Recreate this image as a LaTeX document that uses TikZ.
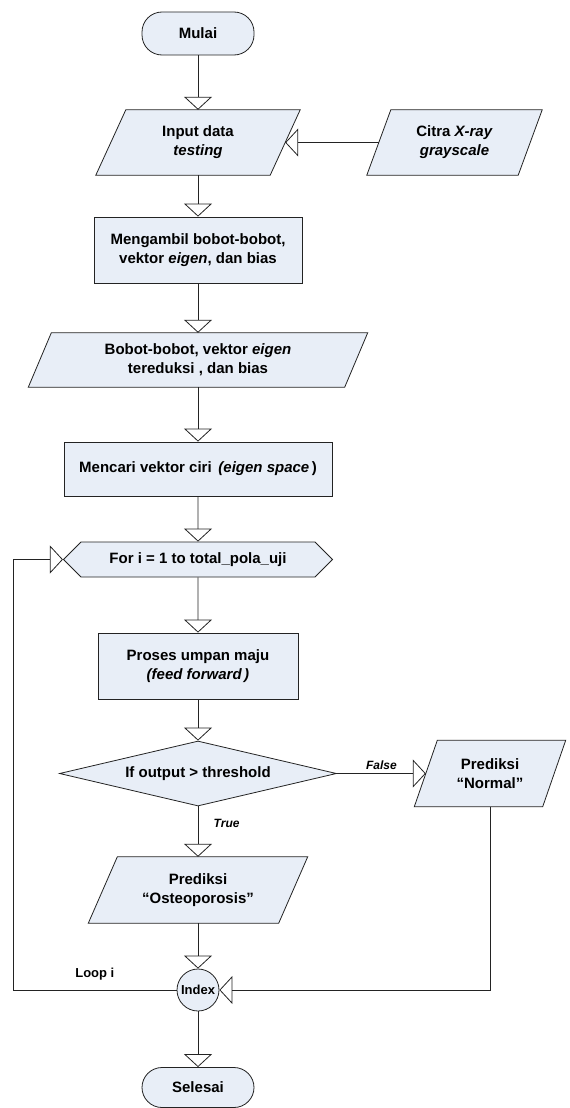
\documentclass[tikz,border=0pt]{standalone}
\usepackage{fontspec}
\setmainfont{Liberation Sans}
\usepackage{tikz}
\usetikzlibrary{arrows.meta,positioning,shapes.geometric,shapes.symbols,backgrounds}
\definecolor{boxpale}{RGB}{232,238,247}
\definecolor{edge}{RGB}{35,35,35}
% slanted outline behind a data node: name, half skew
\newcommand\datashape[2]{%
  \path[base] ([xshift=#2]#1.north west) -- ([xshift=#2]#1.north east)
    -- ([xshift=-#2]#1.south east) -- ([xshift=-#2]#1.south west) -- cycle;}

\begin{document}
\begin{tikzpicture}[x=1pt,y=-1pt,>={Triangle[open,length=13pt,width=28pt]},
  every node/.style={align=center,font=\bfseries\fontsize{15}{19}\selectfont},
  base/.style={draw=edge,line width=0.8pt,fill=boxpale,inner sep=0pt},
  term/.style={base,rectangle,rounded corners=20pt,minimum width=112pt},
  proc/.style={base,rectangle},
  io/.style={rectangle,inner sep=0pt},
  lbl/.style={font=\bfseries\itshape\fontsize{12}{14}\selectfont},
  flow/.style={->,draw=edge,line width=0.8pt}]
  \useasboundingbox (0,0) rectangle (570,1108);

  \node[term,minimum height=43pt] (mulai) at (198,33.5) {Mulai};
  \node[io,minimum width=174pt,minimum height=65pt] (inp) at (198,142.5)
    {Input data\\\textit{testing}};
  \node[io,minimum width=151pt,minimum height=65pt] (citra) at (454.5,142.5)
    {Citra \textit{X-ray}\\\textit{grayscale}};
  \node[proc,minimum width=208pt,minimum height=66pt] (ambil) at (198,250)
    {Mengambil bobot-bobot,\\vektor \textit{eigen}, dan bias};
  \node[io,minimum width=316pt,minimum height=54pt] (bobot) at (198,360)
    {Bobot-bobot, vektor \textit{eigen}\\tereduksi , dan bias};
  \node[proc,minimum width=268pt,minimum height=54pt] (ciri) at (198,469)
    {Mencari vektor ciri \,\textit{(eigen space}\,)};
  \node[base,signal,signal to=west and east,signal pointer angle=90,
    minimum width=269pt,minimum height=35pt] (loop) at (198,559.5)
    {For i = 1 to total\_pola\_uji};
  \node[proc,minimum width=200pt,minimum height=66pt] (maju) at (198,666)
    {Proses umpan maju\\\textit{(feed forward\,)}};
  \node[base,diamond,aspect=4.26,minimum width=277pt,minimum height=65pt] (cek) at (198,773.5)
    {If output > threshold};
  \node[io,minimum width=128pt,minimum height=66pt] (normal) at (490,773.5)
    {Prediksi\\“Normal”};
  \node[io,minimum width=190pt,minimum height=66pt] (osteo) at (198,890)
    {Prediksi\\“Osteoporosis”};
  \node[base,circle,minimum size=42pt,font=\bfseries\fontsize{13}{15}\selectfont] (idx) at (198,990) {Index};
  \node[term,minimum height=40pt] (selesai) at (198,1087.5) {Selesai};
  \coordinate (ret) at (13,990);

  \begin{scope}[on background layer]
    \datashape{inp}{15pt}
    \datashape{citra}{12pt}
    \datashape{bobot}{11.5pt}
    \datashape{normal}{11.5pt}
    \datashape{osteo}{14.5pt}
  \end{scope}

  \draw[flow] (mulai) -- (inp);
  \draw[flow] (citra) -- (inp);
  \draw[flow] (inp) -- (ambil);
  \draw[flow] (ambil) -- (bobot);
  \draw[flow] (bobot) -- (ciri);
  \draw[flow] (ciri) -- (loop);
  \draw[flow] (loop) -- (maju);
  \draw[flow] (maju) -- (cek);
  \draw[flow] (cek) -- node[lbl,pos=0.33,right=12pt]{True} (osteo);
  \draw[flow] (cek) -- node[lbl,above]{False} (normal);
  \draw[flow] (osteo) -- (idx);
  \draw[flow] (normal) |- (idx);
  \draw[flow] (idx) -- node[above=6pt,font=\bfseries\fontsize{13}{15}\selectfont]{Loop i} (ret) |- (loop);
  \draw[flow] (idx) -- (selesai);
\end{tikzpicture}
\end{document}
